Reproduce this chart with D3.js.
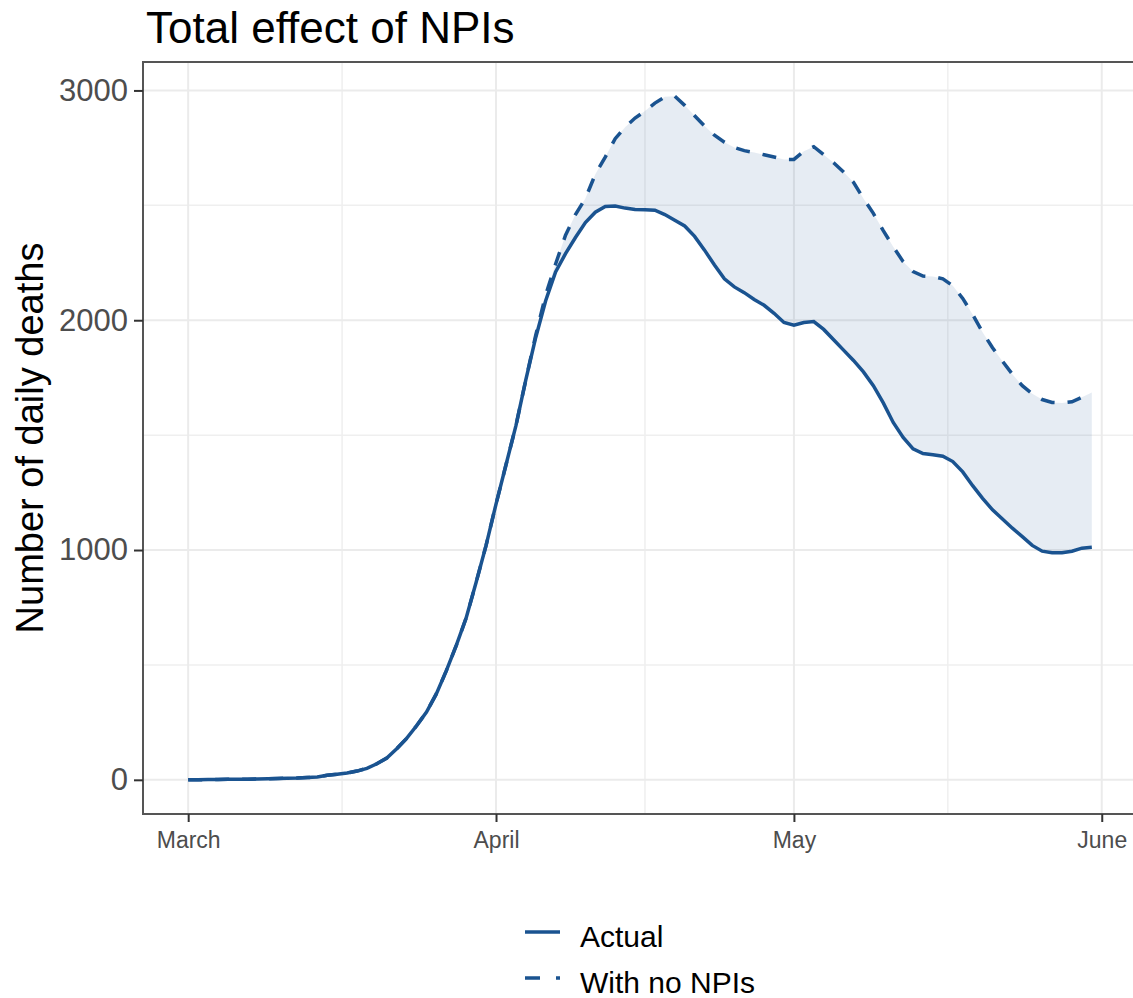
<!DOCTYPE html>
<html>
<head>
<meta charset="utf-8">
<script src="https://cdn.jsdelivr.net/npm/d3@7"></script>
<style>
  body { margin: 0; background: #fff; }
  text { font-family: "Liberation Sans", Arial, sans-serif; }
</style>
</head>
<body>
<script>
width = 1133;
height = 998;

// daily values, 1 March to 31 May 2020
var startDate = new Date(Date.UTC(2020, 2, 1));

var actual = [
    0, 0, 1, 1, 2, 2, 3, 4, 5, 6,
    7, 8, 10, 12, 20, 24, 30, 38, 50, 70,
    95, 135, 180, 235, 295, 375, 475, 585, 705, 860,
    1020, 1200, 1370, 1540, 1740, 1925, 2085, 2210, 2290, 2360,
    2425, 2470, 2495, 2497, 2488, 2482, 2481, 2479, 2460, 2435,
    2410, 2365, 2305, 2240, 2180, 2145, 2120, 2090, 2065, 2030,
    1990, 1978, 1990, 1994, 1960, 1915, 1870, 1825, 1775, 1715,
    1640, 1555, 1490, 1440, 1420, 1415, 1408, 1385, 1340, 1280,
    1225, 1175, 1135, 1095, 1058, 1020, 995, 988, 988, 995,
    1008, 1012
];

var noNPIs = [
    0, 0, 1, 1, 2, 2, 3, 4, 5, 6,
    7, 8, 10, 12, 20, 24, 30, 38, 50, 70,
    95, 135, 180, 235, 295, 375, 475, 585, 705, 860,
    1020, 1200, 1370, 1540, 1740, 1935, 2110, 2245, 2370, 2460,
    2530, 2635, 2710, 2790, 2840, 2880, 2910, 2945, 2972, 2975,
    2935, 2890, 2845, 2805, 2775, 2752, 2738, 2730, 2720, 2710,
    2700, 2700, 2735, 2755, 2720, 2685, 2645, 2600, 2530, 2465,
    2390, 2320, 2255, 2212, 2192, 2190, 2180, 2150, 2095, 2025,
    1948, 1880, 1822, 1765, 1715, 1680, 1655, 1642, 1640, 1645,
    1665, 1685
];

var yTicks = [0, 1000, 2000, 3000];
var yMinor = [500, 1500, 2500];
var xTickLabels = ["March", "April", "May", "June"];
var xTicks = [new Date(Date.UTC(2020, 2, 1)), new Date(Date.UTC(2020, 3, 1)),
              new Date(Date.UTC(2020, 4, 1)), new Date(Date.UTC(2020, 5, 1))];
var xMinor = [new Date(Date.UTC(2020, 2, 16, 12)), new Date(Date.UTC(2020, 3, 16)),
              new Date(Date.UTC(2020, 4, 16, 12))];

var legendLabels = ["Actual", "With no NPIs"];
var lineColor = "#1a5390";

rows = actual.map(function (v, i) {
    return { date: d3.utcDay.offset(startDate, i), actual: v, noNPIs: noNPIs[i] };
});

var panel = {left: 143, top: 62, right: 1137, bottom: 814};

var svg = d3.select("body")
    .append("svg")
    .attr("width", width)
    .attr("height", height);

// ggplot style 5% expansion on both axes
var dateExt = d3.extent(rows, d => d.date);
var padX = (dateExt[1] - dateExt[0]) * 0.05;
var x = d3.scaleUtc()
    .domain([new Date(+dateExt[0] - padX), new Date(+dateExt[1] + padX)])
    .range([panel.left, panel.right]);

var yMax = d3.max(rows, d => d.noNPIs);
var y = d3.scaleLinear()
    .domain([-yMax * 0.05, yMax * 1.05])
    .range([panel.bottom, panel.top]);

svg.append("defs").append("clipPath")
    .attr("id", "clip")
  .append("rect")
    .attr("x", panel.left)
    .attr("y", panel.top)
    .attr("width", panel.right - panel.left)
    .attr("height", panel.bottom - panel.top);

var plot = svg.append("g").attr("clip-path", "url(#clip)");

// grid
plot.selectAll(".yminor").data(yMinor).enter().append("line")
    .attr("x1", panel.left).attr("x2", panel.right)
    .attr("y1", d => y(d)).attr("y2", d => y(d))
    .attr("stroke", "#efefef").attr("stroke-width", 1.5);
plot.selectAll(".xminor").data(xMinor).enter().append("line")
    .attr("y1", panel.top).attr("y2", panel.bottom)
    .attr("x1", d => x(d)).attr("x2", d => x(d))
    .attr("stroke", "#efefef").attr("stroke-width", 1.5);
plot.selectAll(".ymajor").data(yTicks).enter().append("line")
    .attr("x1", panel.left).attr("x2", panel.right)
    .attr("y1", d => y(d)).attr("y2", d => y(d))
    .attr("stroke", "#ebebeb").attr("stroke-width", 2);
plot.selectAll(".xmajor").data(xTicks).enter().append("line")
    .attr("y1", panel.top).attr("y2", panel.bottom)
    .attr("x1", d => x(d)).attr("x2", d => x(d))
    .attr("stroke", "#ebebeb").attr("stroke-width", 2);

// ribbon between the two curves
plot.append("path")
    .datum(rows)
    .attr("fill", lineColor)
    .attr("fill-opacity", 0.11)
    .attr("d", d3.area()
        .x(d => x(d.date))
        .y0(d => y(d.actual))
        .y1(d => y(d.noNPIs))
    );

plot.append("path")
    .datum(rows)
    .attr("fill", "none")
    .attr("stroke", lineColor)
    .attr("stroke-width", 3.5)
    .attr("stroke-dasharray", "14,13")
    .attr("d", d3.line()
        .x(d => x(d.date))
        .y(d => y(d.noNPIs))
    );

plot.append("path")
    .datum(rows)
    .attr("fill", "none")
    .attr("stroke", lineColor)
    .attr("stroke-width", 3.5)
    .attr("d", d3.line()
        .x(d => x(d.date))
        .y(d => y(d.actual))
    );

// panel border
svg.append("rect")
    .attr("x", panel.left)
    .attr("y", panel.top)
    .attr("width", panel.right - panel.left)
    .attr("height", panel.bottom - panel.top)
    .attr("fill", "none")
    .attr("stroke", "#555")
    .attr("stroke-width", 2);

// Add Y axis
var yAxis = svg.append("g")
    .attr("transform", "translate(" + panel.left + ",0)")
    .call(d3.axisLeft(y).tickValues(yTicks).tickFormat(d3.format("d"))
        .tickSize(9).tickPadding(6));
yAxis.select(".domain").remove();
yAxis.selectAll(".tick line").attr("stroke", "#333").attr("stroke-width", 2);
yAxis.selectAll(".tick text")
    .attr("fill", "#4d4d4d")
    .style("font-size", "31px")
    .style("font-family", "Liberation Sans, Arial, sans-serif");

// Add X axis
var xAxis = svg.append("g")
    .attr("transform", "translate(0," + panel.bottom + ")")
    .call(d3.axisBottom(x).tickValues(xTicks)
        .tickFormat((d, i) => xTickLabels[i])
        .tickSize(8).tickPadding(10));
xAxis.select(".domain").remove();
xAxis.selectAll(".tick line").attr("stroke", "#333").attr("stroke-width", 2);
xAxis.selectAll(".tick text")
    .attr("fill", "#4d4d4d")
    .style("font-size", "23px")
    .style("font-family", "Liberation Sans, Arial, sans-serif");

// titles
svg.append("text")
    .attr("x", 146)
    .attr("y", 43)
    .style("font-size", "44px")
    .attr("fill", "#000")
    .text("Total effect of NPIs");

svg.append("text")
    .attr("transform", "translate(43," + ((panel.top + panel.bottom) / 2) + ") rotate(-90)")
    .attr("text-anchor", "middle")
    .style("font-size", "38px")
    .attr("fill", "#000")
    .text("Number of daily deaths");

// legend
var legend = svg.append("g");
legendLabels.forEach(function (lab, i) {
    var ly = 932 + i * 46;
    legend.append("line")
        .attr("x1", 525).attr("x2", 560)
        .attr("y1", ly).attr("y2", ly)
        .attr("stroke", lineColor)
        .attr("stroke-width", 3.5)
        .attr("stroke-dasharray", i == 1 ? "15,16" : null);
    legend.append("text")
        .attr("x", 580)
        .attr("y", ly + 15)
        .style("font-size", "30px")
        .attr("fill", "#000")
        .text(lab);
});
</script>
</body>
</html>
